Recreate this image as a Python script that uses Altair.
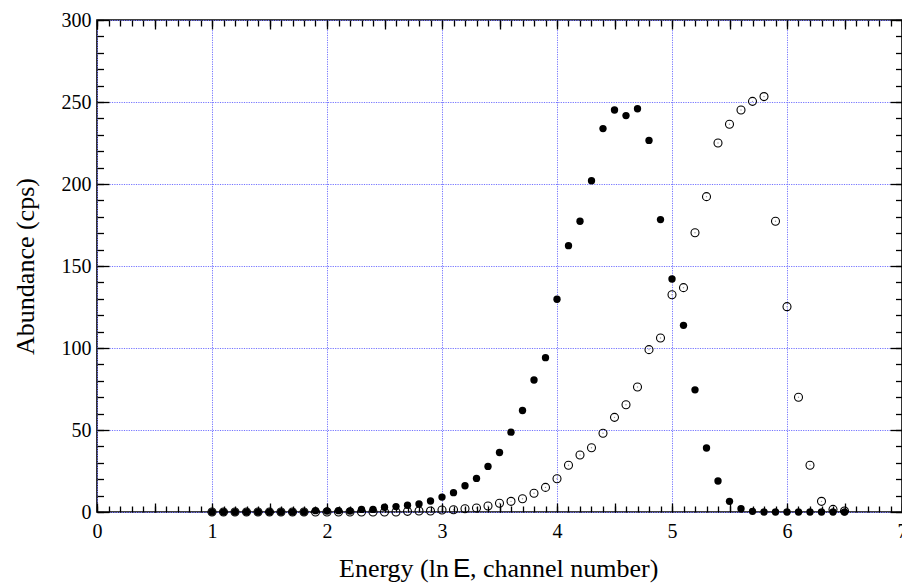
import altair as alt
import pandas as pd

# Energy axis positions (ln E, channel number)
energy = [1.0, 1.1, 1.2, 1.3, 1.4, 1.5, 1.6, 1.7, 1.8, 1.9,
          2.0, 2.1, 2.2, 2.3, 2.4, 2.5, 2.6, 2.7, 2.8, 2.9,
          3.0, 3.1, 3.2, 3.3, 3.4, 3.5, 3.6, 3.7, 3.8, 3.9,
          4.0, 4.1, 4.2, 4.3, 4.4, 4.5, 4.6, 4.7, 4.8, 4.9,
          5.0, 5.1, 5.2, 5.3, 5.4, 5.5, 5.6, 5.7, 5.8, 5.9,
          6.0, 6.1, 6.2, 6.3, 6.4, 6.5]

# Abundance (cps), filled-circle spectrum
abund_filled = [0, 0, 0, 0, 0, 0, 0, 0, 0, 0.8,
                0.6, 0.8, 0.6, 1.6, 1.6, 2.9, 3.3, 4.1, 4.9, 6.7,
                9.1, 11.8, 16.0, 20.5, 27.8, 36.3, 48.7, 61.9, 80.5, 94.1,
                129.7, 162.4, 177.3, 202.0, 233.8, 245.1, 241.7, 245.9, 226.6, 178.3,
                142.1, 113.8, 74.5, 39.0, 18.9, 6.5, 2.0, 0.4, 0, 0,
                0, 0, 0, 0, 0, 0]

# Abundance (cps), open-circle spectrum
abund_open = [0, 0, 0, 0, 0, 0, 0, 0, 0, 0,
              0, 0, 0, 0, 0, 0, 0, 0.4, 0.6, 0.6,
              1.2, 1.4, 2.0, 2.4, 3.7, 5.3, 6.5, 8.1, 11.4, 15.0,
              20.3, 28.5, 34.8, 39.2, 48.0, 57.7, 65.4, 76.2, 99.0, 106.1,
              132.5, 136.8, 170.3, 192.3, 225.0, 236.4, 245.1, 250.4, 253.3, 177.3,
              125.2, 70.0, 28.5, 6.5, 1.6, 0.6]

x_labels = [0, 1, 2, 3, 4, 5, 6, 7]
x_minor = [round(i * 0.1, 1) for i in range(71)]
x_major = [i * 0.5 for i in range(15)]
y_labels = [0, 50, 100, 150, 200, 250, 300]
y_minor = list(range(0, 301, 10))
y_major = list(range(0, 301, 50))

title_parts = ["Energy (ln ", "E", ", channel number)"]

W, H = 805, 492
SERIF = "Liberation Serif"
GRID = "#7373ff"

df_filled = pd.DataFrame({"energy": energy, "value": abund_filled})
df_open = pd.DataFrame({"energy": energy, "value": abund_open})

xs = alt.Scale(domain=[0, 7], nice=False, zero=False)
ys = alt.Scale(domain=[0, 300], nice=False, zero=False)


def tick_axis(orient, values, size, offset):
    return alt.Axis(orient=orient, offset=offset, values=values, tickSize=size,
                    tickColor="black", tickWidth=1.3, labels=False, domain=False,
                    grid=False, title=None, zindex=2)


def tick_layer(xaxis, yaxis):
    # transparent points that only carry an inward-facing tick axis pair
    return alt.Chart(df_open).mark_point(opacity=0).encode(
        x=alt.X("energy:Q", scale=xs, axis=xaxis),
        y=alt.Y("value:Q", scale=ys, axis=yaxis),
    )


open_pts = alt.Chart(df_open).mark_point(
    shape="circle", filled=False, size=64, stroke="black", strokeWidth=1.1, opacity=1
).encode(
    x=alt.X("energy:Q", scale=xs, axis=alt.Axis(
        orient="bottom", values=x_labels, format="d", ticks=False, tickSize=0,
        domain=False, grid=True, gridColor=GRID, gridDash=[1.2, 1.2], gridWidth=1,
        labelFont=SERIF, labelFontSize=20, labelColor="black", labelPadding=9,
        labelFlush=False, title=None)),
    y=alt.Y("value:Q", scale=ys, axis=alt.Axis(
        orient="left", values=y_labels, format="d", ticks=False, tickSize=0,
        domain=False, grid=True, gridColor=GRID, gridDash=[1.2, 1.2], gridWidth=1,
        labelFont=SERIF, labelFontSize=20, labelColor="black", labelPadding=6,
        labelFlush=False, title="Abundance (cps)", titleFont=SERIF,
        titleFontSize=26, titleFontWeight="normal", titleColor="black",
        titleX=-64, titleY=H / 2, titleAngle=270, titleAlign="center",
        titleBaseline="alphabetic")),
)

open_dots = alt.Chart(df_open).mark_circle(size=2, color="#999999", opacity=1).encode(
    x=alt.X("energy:Q", scale=xs, axis=None), y=alt.Y("value:Q", scale=ys, axis=None)
)

filled_pts = alt.Chart(df_filled).mark_circle(size=54, color="black", opacity=1).encode(
    x=alt.X("energy:Q", scale=xs, axis=None), y=alt.Y("value:Q", scale=ys, axis=None)
)

# inward ticks on all four sides: minor and major
ticks = [
    tick_layer(tick_axis("top", x_minor, 6, -H), tick_axis("right", y_minor, 6.5, -W)),
    tick_layer(tick_axis("top", x_major, 9, -H), tick_axis("right", y_major, 12, -W)),
    tick_layer(tick_axis("bottom", x_minor, 6, -H), tick_axis("left", y_minor, 6.5, -W)),
    tick_layer(tick_axis("bottom", x_major, 9, -H), tick_axis("left", y_major, 12, -W)),
]

# x-axis title with a sans-serif E
title_x = [242, 356, 373]
title_fonts = [SERIF, "Liberation Sans", SERIF]
title_layers = []
for part, px, fnt in zip(title_parts, title_x, title_fonts):
    title_layers.append(
        alt.Chart(pd.DataFrame({"t": [part]})).mark_text(
            font=fnt, fontSize=26, align="left", baseline="alphabetic", color="black"
        ).encode(x=alt.value(px), y=alt.value(557), text="t:N")
    )

chart = alt.layer(
    open_pts, open_dots, filled_pts, *ticks, *title_layers
).resolve_axis(
    x="independent", y="independent"
).properties(
    width=W, height=H,
    autosize=alt.AutoSizeParams(type="none"),
    padding={"left": 97, "top": 20, "right": 0, "bottom": 73},
    background="white",
).configure_view(
    stroke="black", strokeWidth=1.6
)

chart.save("out.html", embed_options={"renderer": "svg", "actions": False})
